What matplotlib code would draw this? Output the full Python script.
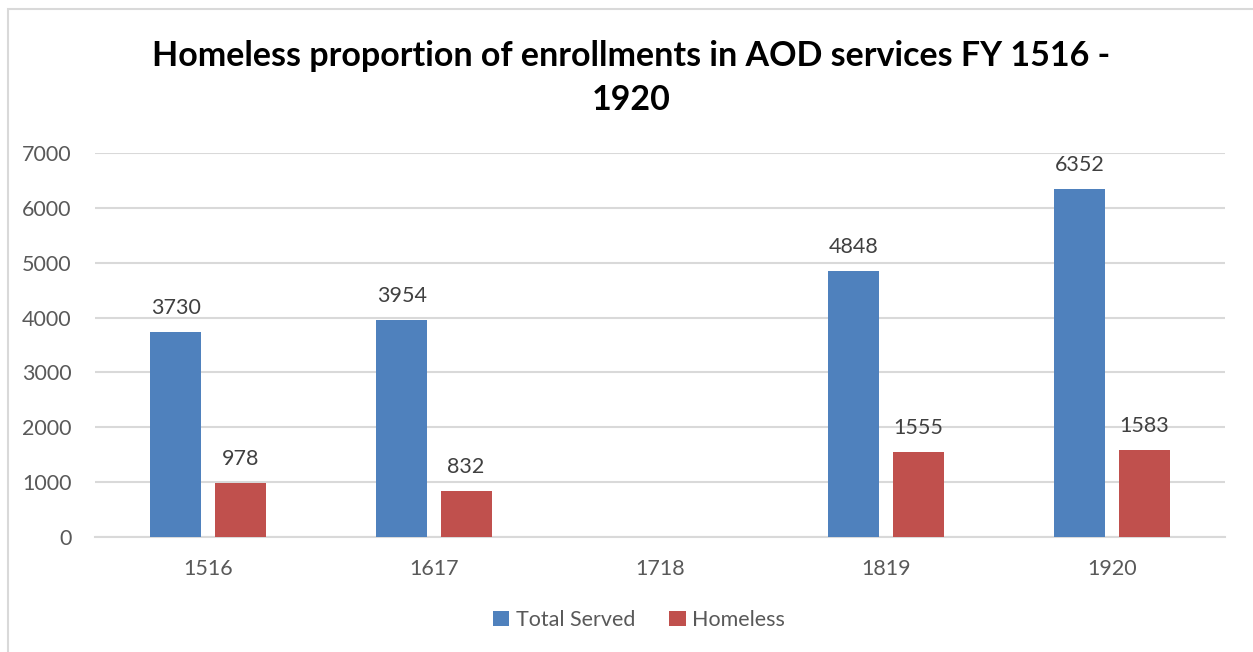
import numpy as np
import matplotlib
matplotlib.use("Agg")
import matplotlib.pyplot as plt
from matplotlib.patches import Rectangle

categories = ["1516", "1617", "1718", "1819", "1920"]
total_served = [3730, 3954, None, 4848, 6352]
homeless = [978, 832, None, 1555, 1583]
series_names = ["Total Served", "Homeless"]
title = "Homeless proportion of enrollments in AOD services FY 1516 -\n1920"

BLUE = "#4F81BD"
RED = "#C0504D"
GRID = "#D9D9D9"
TEXT = "#595959"
LABEL = "#404040"

plt.rcParams["font.family"] = ["Lato", "DejaVu Sans"]

W, H = 1253, 652
fig = plt.figure(figsize=(W / 100, H / 100), dpi=100)

# chart frame
fig.patches.append(Rectangle((7.5 / W, -0.1), 1.2, 1 - 8.5 / H + 0.1,
                             transform=fig.transFigure, fill=False,
                             edgecolor=GRID, linewidth=1.5, zorder=0))

ax = fig.add_axes([95 / W, 1 - 537 / H, (1225 - 95) / W, (537 - 153) / H])

x = np.arange(len(categories))
width = 0.226
offset = 0.142

def to_arr(v):
    return np.array([np.nan if a is None else a for a in v], dtype=float)

ts = to_arr(total_served)
hl = to_arr(homeless)

b1 = ax.bar(x - offset, ts, width, color=BLUE, label=series_names[0], zorder=3)
b2 = ax.bar(x + offset, hl, width, color=RED, label=series_names[1], zorder=3)

for bars, vals in ((b1, total_served), (b2, homeless)):
    for rect, v in zip(bars, vals):
        if v is None:
            continue
        ax.annotate(f"{v}", (rect.get_x() + rect.get_width() / 2, v),
                    xytext=(0, 10), textcoords="offset points",
                    ha="center", va="bottom", fontsize=15.5, color=LABEL)

ax.set_xlim(-0.5, len(categories) - 0.5)
ax.set_ylim(0, 7000)
ax.set_yticks(range(0, 7001, 1000))
ax.set_xticks(x)
ax.set_xticklabels(categories)
ax.yaxis.grid(True, color=GRID, linewidth=1.5, zorder=0)
ax.set_axisbelow(True)
for s in ("top", "right", "left"):
    ax.spines[s].set_visible(False)
ax.spines["bottom"].set_color(GRID)
ax.spines["bottom"].set_linewidth(1.5)
ax.tick_params(axis="both", length=0, labelsize=15.5, colors=TEXT)
ax.tick_params(axis="y", pad=17)
ax.tick_params(axis="x", pad=16)

fig.text(631 / W, 1 - 78 / H, title, ha="center", va="center",
         fontsize=24.5, fontweight="bold", color="black", linespacing=1.45)

fig.legend(handles=[b1, b2], labels=series_names, loc="center",
           bbox_to_anchor=(639 / W, 1 - 620 / H), ncol=2, frameon=False,
           fontsize=15.5, handlelength=0.75, handleheight=0.75,
           handletextpad=0.3, columnspacing=1.6, labelcolor=TEXT)

fig.savefig("out.png", dpi=100)
